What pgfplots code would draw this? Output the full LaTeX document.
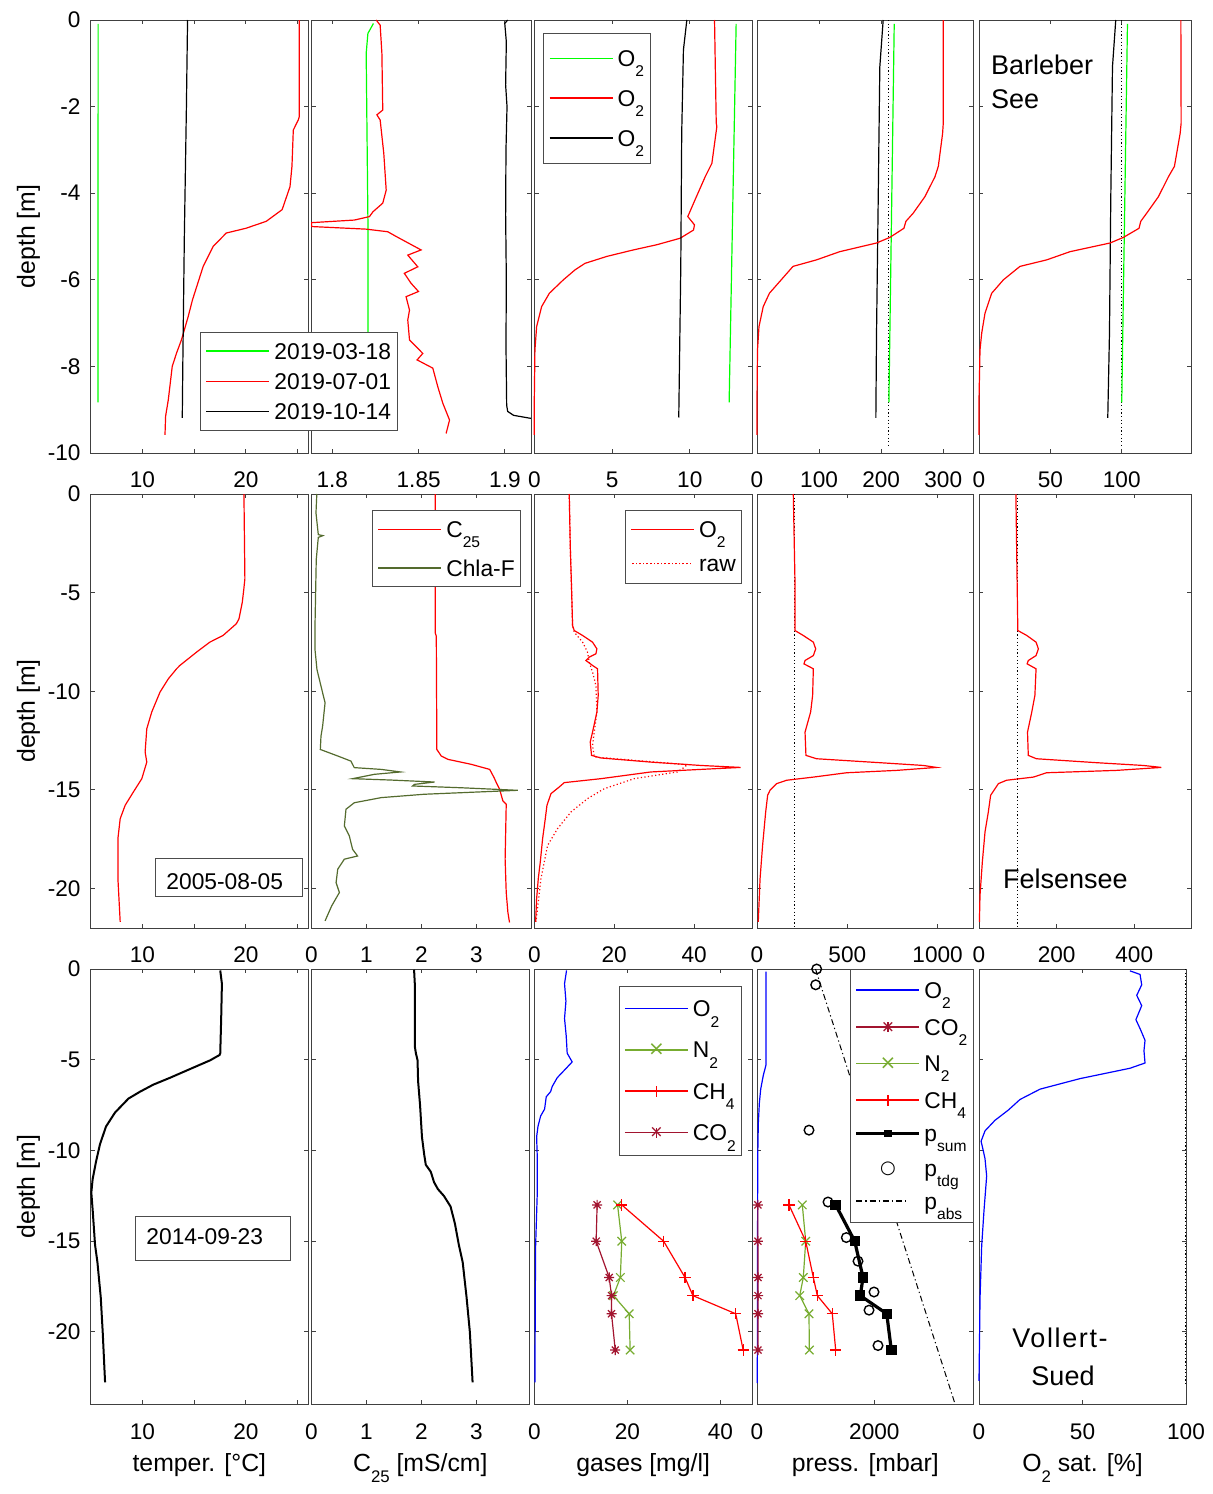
\documentclass[border=0pt]{standalone}
\usepackage{fontspec}
\setmainfont{Liberation Sans}
\newfontfamily\symfont{DejaVu Sans}
\usepackage{pgfplots}
\pgfplotsset{compat=1.18}

\definecolor{mgreen}{rgb}{0,1,0}
\definecolor{mred}{rgb}{1,0,0}
\definecolor{mblue}{rgb}{0,0,1}
\definecolor{chla}{rgb}{0.33,0.42,0.18}
\definecolor{ngreen}{rgb}{0.466,0.674,0.188}
\definecolor{codred}{rgb}{0.635,0.078,0.184}

% subscripts, matlab style (large and low)
\newcommand{\sub}[1]{\raisebox{-0.45em}[0pt][0pt]{\fontsize{7.8}{8}\selectfont #1}}
\newcommand{\subl}[1]{\raisebox{-0.45em}[0pt][0pt]{\fontsize{8.4}{9}\selectfont #1}}

% legend samples set as coloured text (line, marker, gap)
\newcommand{\ctr}[1]{\makebox[0pt][c]{\raisebox{-0.5\height}{#1}}}
\newcommand{\mkplus}{\makebox[0pt][c]{\rule[-2.8pt]{0.7pt}{5.6pt}}\makebox[0pt][c]{\rule[-0.35pt]{5.6pt}{0.7pt}}}
\newcommand{\mkx}{\ctr{\symfont\fontsize{10}{10}\selectfont ×}}
\newcommand{\mkast}{\makebox[0pt][c]{\rule[-2.5pt]{0.7pt}{5pt}}\makebox[0pt][c]{\rule[-0.35pt]{5pt}{0.7pt}}\ctr{\symfont\fontsize{8.5}{9}\selectfont ×}}
\newcommand{\mksq}{\ctr{\rule{3.6pt}{3.6pt}}}
\newcommand{\mkcirc}{\ctr{\symfont\fontsize{9}{9}\selectfont ○}}
\newcommand{\lsamp}[1]{\textcolor{#1}{\rule[3.7pt]{31.5pt}{0.8pt}}\hspace*{2.5pt}}
\newcommand{\lmark}[4]{\textcolor{#1}{\rlap{\rule[#2]{31.5pt}{#3}}\makebox[31.5pt][c]{\raisebox{4.1pt}{#4}}}\hspace*{2.5pt}}
\newcommand{\lonly}[1]{\makebox[31.5pt][c]{\raisebox{4.1pt}{#1}}\hspace*{2.5pt}}
\newcommand{\ldot}[1]{\textcolor{#1}{\hbox to 31.5pt{\leaders\hbox to 1.8pt{\hss\rule[3.7pt]{0.8pt}{0.8pt}\hss}\hfill}}\hspace*{2.5pt}}
\newcommand{\ldd}{\hbox to 31.5pt{\leaders\hbox to 6.6pt{\rule[3.8pt]{3pt}{0.6pt}\hspace*{1.5pt}\rule[3.8pt]{0.7pt}{0.6pt}\hfil}\hfill}\hspace*{2.5pt}}

% 8-armed asterisk like matlab '*'
\pgfdeclareplotmark{ast8}{%
  \pgfpathmoveto{\pgfqpoint{-\pgfplotmarksize}{0pt}}\pgfpathlineto{\pgfqpoint{\pgfplotmarksize}{0pt}}%
  \pgfpathmoveto{\pgfqpoint{0pt}{-\pgfplotmarksize}}\pgfpathlineto{\pgfqpoint{0pt}{\pgfplotmarksize}}%
  \pgfpathmoveto{\pgfqpoint{-.707\pgfplotmarksize}{-.707\pgfplotmarksize}}\pgfpathlineto{\pgfqpoint{.707\pgfplotmarksize}{.707\pgfplotmarksize}}%
  \pgfpathmoveto{\pgfqpoint{-.707\pgfplotmarksize}{.707\pgfplotmarksize}}\pgfpathlineto{\pgfqpoint{.707\pgfplotmarksize}{-.707\pgfplotmarksize}}%
  \pgfusepathqstroke}

\pgfplotsset{
  panel/.style={
    scale only axis, anchor=north west, clip=false,
    axis line style={black!75, line width=0.5pt},
    every tick/.style={black!75, line width=0.5pt},
    tick align=inside, major tick length=2.2pt,
    xtick pos=both, ytick pos=both,
    xticklabel pos=lower, yticklabel pos=left,
    tick label style={font=\fontsize{11.3}{12}\selectfont},
    xticklabel style={anchor=base, yshift=-17.3pt},
    yticklabel style={anchor=east, xshift=-1.1pt},
    yticklabels={},
    every axis x label/.style={at={(axis description cs:0.5,0)}, anchor=base, yshift=-33.3pt, font=\fontsize{12.4}{14}\selectfont},
    every axis y label/.style={at={(axis description cs:-0.286,0.5)}, anchor=center, rotate=90, font=\fontsize{12.4}{14}\selectfont},
    legend cell align=left,
    legend image code/.code={},
    legend style={draw=black!70, fill=white, font=\fontsize{11.4}{13}\selectfont,
      inner xsep=1.5pt, nodes={inner sep=0pt, inner xsep=1.5pt, text depth=0pt}},
  },
  ln/.style={line width=0.6pt},
  r1/.style={ymin=-10, ymax=0, ytick={0,-2,-4,-6,-8,-10}, height=216.5pt},
  r2/.style={ymin=-22, ymax=0, ytick={0,-5,-10,-15,-20}, height=217pt},
  r3/.style={ymin=-24, ymax=0, ytick={0,-5,-10,-15,-20}, height=217.75pt},
  lg/.style 2 args={legend style={row sep=#1, inner ysep=#2}},
  dots/.style={line width=0.5pt, dash pattern=on 0.6pt off 1.2pt},
}

\begin{document}
\fontsize{11.4}{13}\selectfont
\begin{tikzpicture}
\useasboundingbox (0,0) rectangle (606pt,-747pt);

% ================= row 1: Barleber See =================
\begin{axis}[panel, r1, at={(155.65pt,-10pt)}, width=109.85pt,
  xmin=1.7878, xmax=1.9151, xtick={1.8,1.85,1.9}, xticklabels={1.8,1.85,1.9}]
\addplot[ln, mgreen] coordinates {(1.8238,-0.08) (1.8206,-0.31) (1.8196,-0.77) (1.8200,-2.31) (1.8206,-4.62) (1.8206,-7.2) (1.8206,-8.83)};
\addplot[ln, mred] coordinates {(1.8254,0) (1.8277,-0.12) (1.8287,-0.77) (1.8292,-2.08) (1.8258,-2.19) (1.8277,-2.31) (1.8298,-3.08) (1.8312,-3.93) (1.8292,-4.23) (1.8235,-4.43) (1.8215,-4.54) (1.8128,-4.62) (1.788,-4.68) (1.788,-4.77) (1.8196,-4.83) (1.8321,-4.89) (1.8370,-5.0) (1.8514,-5.31) (1.8437,-5.43) (1.8495,-5.7) (1.8417,-5.85) (1.8456,-6.08) (1.8499,-6.27) (1.8427,-6.39) (1.8447,-6.7) (1.8437,-6.93) (1.8447,-7.39) (1.8524,-7.7) (1.8491,-7.85) (1.8582,-8.04) (1.8611,-8.47) (1.8640,-8.85) (1.8679,-9.24) (1.8659,-9.55)};
\addplot[ln, black] coordinates {(1.9016,0) (1.8999,-0.08) (1.9008,-0.5) (1.9004,-1.5) (1.9012,-2.0) (1.9006,-3) (1.9004,-4.5) (1.9008,-6) (1.9006,-7.5) (1.9010,-8.9) (1.9016,-9.04) (1.905,-9.13) (1.915,-9.2)};
\end{axis}

\begin{axis}[panel, r1, at={(45.35pt,-10pt)}, width=108.65pt,
  xmin=5, xmax=26, xtick={10,15,20,25}, xticklabels={10,,20,},
  yticklabels={0,-2,-4,-6,-8,-10}, ylabel={depth [m]},
  lg={7.2pt}{5.35pt}, legend style={at={(axis description cs:0.503,0.279)}, anchor=north west}]
\addplot[ln, mgreen] coordinates {(5.72,-0.09) (5.70,-8.83)};
\addplot[ln, mred] coordinates {(25.16,0) (25.16,-2.23) (25.06,-2.31) (24.58,-2.54) (24.45,-3.38) (24.26,-3.85) (23.5,-4.38) (21.96,-4.65) (20.0,-4.81) (18.1,-4.92) (16.83,-5.23) (15.87,-5.69) (14.84,-6.46) (14.42,-6.85) (13.78,-7.38) (13.3,-7.69) (12.88,-8.0) (12.5,-8.77) (12.24,-9.15) (12.18,-9.58)};
\addplot[ln, black] coordinates {(14.36,0) (14.25,-2) (14.05,-5) (13.9,-8) (13.85,-9.19)};
\legend{\lsamp{mgreen}2019-03-18,\lsamp{mred}2019-07-01,\lsamp{black}2019-10-14}
\end{axis}

\begin{axis}[panel, r1, at={(267.15pt,-10pt)}, width=108.85pt,
  xmin=0, xmax=14, xtick={0,5,10}, xticklabels={0,5,10},
  lg={11.95pt}{8.45pt}, legend style={at={(axis description cs:0.041,0.969)}, anchor=north west}]
\addplot[ln, mgreen] coordinates {(12.98,-0.09) (12.53,-8.83)};
\addplot[ln, mred] coordinates {(11.59,0) (11.70,-2.38) (11.74,-2.46) (11.42,-3.31) (10.99,-3.62) (10.34,-4.15) (9.87,-4.54) (10.30,-4.73) (10.24,-4.85) (9.38,-5.04) (7.88,-5.19) (6.37,-5.31) (4.66,-5.46) (3.26,-5.62) (2.62,-5.77) (1.87,-6.0) (0.97,-6.31) (0.47,-6.62) (0.15,-7.08) (0.04,-7.62) (0,-8.77) (0,-9.58)};
\addplot[ln, black] coordinates {(9.81,0) (9.59,-0.69) (9.48,-2.6) (9.42,-5.69) (9.29,-9.18)};
\legend{\lsamp{mgreen}O\sub{2},\lsamp{mred}O\sub{2},\lsamp{black}O\sub{2}}
\end{axis}

\begin{axis}[panel, r1, at={(378.5pt,-10pt)}, width=108.35pt,
  xmin=0, xmax=349, xtick={0,100,200,300}, xticklabels={0,100,200,300}]
\addplot[ln, black] coordinates {(203.2,0) (197.8,-1.08) (195.2,-4.15) (192.5,-7.23) (191.4,-9.19)};
\addplot[dots, black] coordinates {(212.4,0) (212.4,-9.85)};
\addplot[ln, mgreen] coordinates {(221,-0.09) (212.4,-8.83)};
\addplot[ln, mred] coordinates {(300,0) (300,-2.38) (298.9,-2.62) (292,-3.38) (286.6,-3.62) (270.4,-4.08) (251.6,-4.46) (239.8,-4.65) (236.6,-4.81) (214,-5.02) (192.5,-5.15) (133.3,-5.35) (95.7,-5.54) (58,-5.69) (39,-6.0) (20,-6.31) (10,-6.62) (3.2,-7.08) (0.8,-7.62) (0,-8.77) (0,-9.58)};
\end{axis}

\begin{axis}[panel, r1, at={(489.5pt,-10pt)}, width=106.35pt,
  xmin=0, xmax=149, xtick={0,50,100,150}, xticklabels={0,50,100,150}]
\addplot[ln, black] coordinates {(95.8,0) (93.5,-1.08) (92.3,-4.15) (91.4,-7.23) (90.2,-9.19)};
\addplot[dots, black] coordinates {(99.5,0) (99.5,-9.85)};
\addplot[ln, mgreen] coordinates {(104,-0.09) (100,-8.83)};
\addplot[ln, mred] coordinates {(141.4,0) (141.6,-2.38) (140.9,-2.62) (136.9,-3.38) (132.7,-3.62) (125.7,-4.08) (117.5,-4.46) (113.3,-4.65) (112.1,-4.81) (101.2,-5.02) (91.8,-5.15) (63.8,-5.35) (47.4,-5.54) (28.7,-5.69) (17.1,-6.0) (8.9,-6.31) (4.2,-6.77) (1.9,-7.23) (0.7,-7.62) (0,-8.77) (0,-9.58)};
\end{axis}

% ================= row 2: Felsensee =================
\begin{axis}[panel, r2, at={(45.35pt,-247pt)}, width=108.65pt,
  xmin=5, xmax=26, xtick={10,15,20,25}, xticklabels={10,,20,},
  yticklabels={0,-5,-10,-15,-20}, ylabel={depth [m]}]
\addplot[ln, mred] coordinates {(19.81,0) (19.9,-4.30) (19.8,-4.81) (19.65,-5.49) (19.33,-6.33) (19.07,-6.58) (17.79,-7.17) (16.51,-7.51) (15.22,-8.02) (13.62,-8.69) (13.3,-8.86) (12.5,-9.37) (11.7,-10.04) (10.9,-11.05) (10.42,-11.9) (10.26,-13.08) (10.42,-13.59) (9.94,-14.43) (9.13,-15.1) (8.33,-15.78) (7.85,-16.46) (7.63,-17.47) (7.63,-19.49) (7.85,-21.69)};
\end{axis}

\begin{axis}[panel, r2, at={(155.65pt,-247pt)}, width=109.85pt,
  xmin=0, xmax=3.99, xtick={0,1,2,3}, xticklabels={0,1,2,3},
  lg={11pt}{5.35pt}, legend style={at={(axis description cs:0.276,0.962)}, anchor=north west}]
\addplot[ln, mred] coordinates {(2.25,0) (2.25,-7.04) (2.27,-7.2) (2.28,-12.95) (2.36,-13.28) (2.48,-13.45) (2.90,-13.7) (3.24,-13.96) (3.32,-14.38) (3.36,-14.63) (3.42,-14.97) (3.48,-15.56) (3.54,-15.73) (3.52,-18.51) (3.54,-20.2) (3.57,-21.2) (3.6,-21.72)};
\addplot[ln, chla] coordinates {(0.10,0) (0.085,-0.96) (0.127,-2.06) (0.21,-2.11) (0.127,-2.2) (0.09,-3.32) (0.067,-6.7) (0.067,-7.88) (0.103,-8.9) (0.206,-10.08) (0.25,-10.58) (0.206,-11.76) (0.176,-12.27) (0.164,-12.95) (0.48,-13.28) (0.72,-13.54) (0.78,-13.87) (1.27,-13.96) (1.62,-14.09) (1.145,-14.21) (0.75,-14.43) (1.45,-14.5) (2.24,-14.6) (1.87,-14.72) (1.84,-14.8) (2.72,-14.89) (3.75,-15.02) (2.05,-15.22) (1.27,-15.39) (0.78,-15.65) (0.63,-15.98) (0.6,-16.83) (0.69,-17.33) (0.75,-18.01) (0.84,-18.35) (0.6,-18.51) (0.48,-19.02) (0.45,-19.7) (0.51,-20.2) (0.37,-20.88) (0.25,-21.64)};
\legend{\lsamp{mred}C\sub{25},\lsamp{chla}Chla-F}
\end{axis}

\begin{axis}[panel, r2, at={(267.15pt,-247pt)}, width=108.85pt,
  xmin=0, xmax=54.5, xtick={0,20,40}, xticklabels={0,20,40},
  lg={11pt}{5.6pt}, legend style={at={(axis description cs:0.955,0.963)}, anchor=north east}]
\addplot[ln, mred] coordinates {(8.75,0) (9.0,-2.62) (9.33,-4.81) (9.58,-6.67) (10,-6.92) (12.08,-7.17) (14.58,-7.51) (15.67,-7.85) (15.42,-8.1) (13.75,-8.27) (12.92,-8.44) (14.58,-8.69) (15.83,-8.86) (16,-10.21) (15.67,-11.05) (14.58,-12.07) (14,-12.57) (14.33,-13.25) (16.67,-13.38) (29.17,-13.59) (41.67,-13.76) (51.67,-13.86) (41.67,-13.96) (29.17,-14.09) (16.67,-14.43) (7.5,-14.63) (6.25,-14.85) (4.17,-15.19) (3.17,-15.78) (2.75,-16.46) (2.08,-17.47) (1.5,-18.65) (1.0,-19.49) (0.58,-20.51) (0.33,-21.69)};
\addplot[dots, line width=0.6pt, mred] coordinates {(8.75,0) (9.0,-2.62) (9.33,-4.81) (9.58,-6.67) (10,-7.0) (12.08,-7.51) (13.33,-8.02) (13.75,-8.52) (14.58,-9.03) (15.42,-9.7) (15.67,-11.05) (14.58,-12.74) (15,-13.33) (25,-13.5) (38.3,-13.72) (37.5,-13.86) (35.8,-14.09) (25,-14.43) (17.5,-14.94) (13.33,-15.44) (9.17,-16.12) (5.83,-16.96) (3.33,-17.81) (1.67,-19.49) (0.42,-21.69)};
\legend{\lsamp{mred}O\sub{2},\ldot{mred}raw}
\end{axis}

\begin{axis}[panel, r2, at={(378.5pt,-247pt)}, width=108.35pt,
  xmin=0, xmax=1200, xtick={0,500,1000}, xticklabels={0,500,1000}]
\addplot[dots, black] coordinates {(210,0) (210,-22)};
\addplot[ln, mred] coordinates {(201,0) (210,-4.3) (210,-6.92) (256,-7.17) (312,-7.51) (325,-7.85) (312,-8.19) (266,-8.44) (260,-8.61) (312,-8.86) (308,-10.21) (297,-11.05) (266,-12.07) (271,-13.25) (330,-13.42) (681,-13.62) (921,-13.76) (994,-13.86) (773,-14.01) (496,-14.13) (312,-14.35) (164,-14.51) (109,-14.68) (72,-15.02) (59,-15.27) (48,-16.12) (31,-17.81) (17,-19.49) (7,-21.69)};
\end{axis}

\begin{axis}[panel, r2, at={(489.5pt,-247pt)}, width=106.35pt,
  xmin=0, xmax=548, xtick={0,200,400}, xticklabels={0,200,400}]
\addplot[dots, black] coordinates {(99,0) (99,-22)};
\addplot[ln, mred] coordinates {(95,0) (100,-6.92) (123,-7.17) (147,-7.51) (153,-7.85) (147,-8.19) (127,-8.44) (124,-8.61) (147,-8.86) (144,-10.21) (136,-11.05) (125,-12.07) (127,-13.25) (148,-13.42) (303,-13.62) (423,-13.76) (470,-13.86) (354,-14.01) (174,-14.13) (140,-14.35) (71,-14.51) (50,-14.68) (30,-15.27) (24,-16.12) (15.5,-17.13) (8.6,-18.65) (2.6,-20.34) (1,-21.69)};
\end{axis}

% ================= row 3: Vollert-Sued =================
\begin{axis}[panel, r3, at={(45.35pt,-484.5pt)}, width=108.65pt,
  xmin=5, xmax=26, xtick={10,15,20,25}, xticklabels={10,,20,},
  yticklabels={0,-5,-10,-15,-20}, ylabel={depth [m]}, xlabel={temper. [°C]}]
\addplot[line width=1pt, black] coordinates {(17.52,-0.08) (17.68,-0.81) (17.61,-2.73) (17.52,-4.64) (17.45,-4.74) (16.55,-5.03) (14.61,-5.51) (12.68,-5.99) (11.06,-6.37) (9.77,-6.76) (8.65,-7.14) (7.35,-7.91) (6.48,-8.68) (5.9,-9.65) (5.52,-10.6) (5.19,-11.57) (5.06,-12.32) (5.19,-13.28) (5.42,-15.2) (5.65,-16.16) (5.97,-18.08) (6.16,-20.0) (6.39,-22.78)};
\end{axis}

\begin{axis}[panel, r3, at={(155.65pt,-484.5pt)}, width=109pt,
  xmin=0, xmax=3.96, xtick={0,1,2,3}, xticklabels={0,1,2,3}, xlabel={C\subl{25} [mS/cm]}]
\addplot[line width=1pt, black] coordinates {(1.867,-0.04) (1.88,-0.81) (1.88,-4.26) (1.90,-4.64) (1.93,-5.03) (1.94,-6.18) (1.976,-7.52) (2.01,-9.25) (2.05,-10.21) (2.08,-10.79) (2.17,-11.17) (2.23,-11.75) (2.30,-12.13) (2.41,-12.51) (2.53,-13.09) (2.61,-14.05) (2.68,-15.2) (2.75,-16.16) (2.82,-18.08) (2.88,-20.0) (2.93,-22.78)};
\end{axis}

\begin{axis}[panel, r3, at={(267.15pt,-484.5pt)}, width=108.85pt,
  xmin=0, xmax=46.8, xtick={0,20,40}, xticklabels={0,20,40}, xlabel={gases [mg/l]},
  lg={12.75pt}{7.45pt}, legend style={at={(axis description cs:0.955,0.962)}, anchor=north east}]
\addplot[ln, mblue] coordinates {(6.93,-0.08) (6.5,-0.81) (6.8,-1.77) (6.5,-2.73) (6.86,-3.69) (7.07,-4.64) (8.14,-5.12) (6.71,-5.51) (4.93,-5.99) (3.86,-6.47) (3.5,-6.76) (2.57,-7.04) (2.21,-7.72) (1.36,-8.1) (0.79,-8.68) (0.5,-9.25) (0.64,-10.4) (0.64,-12.32) (0.29,-15.2) (0.21,-18.08) (0.14,-22.78)};
\addplot[ln, ngreen, mark=x, mark size=3pt] coordinates {(17.9,-13) (18.8,-15) (18.5,-17) (17.0,-18) (20.4,-19) (20.6,-21)};
\addplot[ln, mred, mark=+, mark size=2.8pt] coordinates {(18.8,-13) (27.8,-15) (32.4,-17) (34.1,-18) (43.3,-19) (44.9,-21)};
\addplot[ln, codred, mark=ast8, mark size=2.5pt] coordinates {(13.5,-13) (13.3,-15) (16.1,-17) (16.6,-18) (16.6,-19) (17.4,-21)};
\legend{\lsamp{mblue}O\sub{2},\lmark{ngreen}{3.7pt}{0.8pt}{\mkx}N\sub{2},\lmark{mred}{3.7pt}{0.8pt}{\mkplus}CH\sub{4},\lmark{codred}{3.7pt}{0.8pt}{\mkast}CO\sub{2}}
\end{axis}

\begin{axis}[panel, r3, at={(378.5pt,-484.5pt)}, width=108.35pt,
  xmin=0, xmax=3693, xtick={0,2000}, xticklabels={0,2000}, xlabel={press. [mbar]},
  lg={10.4pt}{6.55pt}, legend style={at={(axis description cs:1,1)}, anchor=north east}]
\addplot[ln, mblue] coordinates {(153,-0.14) (154,-5.28) (108,-5.85) (63,-6.62) (40,-7.39) (22,-8.54) (12,-10.45) (5,-22.82)};
\addplot[ln, codred, mark=ast8, mark size=2.5pt] coordinates {(15,-13) (15,-15) (17,-17) (17,-18) (17,-19) (17,-21)};
\addplot[ln, ngreen, mark=x, mark size=3pt] coordinates {(772,-13) (830,-15) (789,-17) (728,-18) (886,-19) (892,-21)};
\addplot[ln, mred, mark=+, mark size=2.8pt] coordinates {(545,-13) (830,-15) (960,-17) (1028,-18) (1283,-19) (1341,-21)};
\addplot[line width=1.6pt, black, mark=square*, mark size=1.8pt] coordinates {(1341,-13) (1665,-15) (1807,-17) (1760,-18) (2211,-19) (2289,-21)};
\addplot[line width=0.7pt, black, only marks, mark=o, mark size=2.4pt] coordinates {(1017,0) (1000,-0.87) (886,-8.88) (1210,-12.84) (1522,-14.8) (1721,-16.1) (1994,-17.8) (1909,-18.8) (2062,-20.75)};
\addplot[line width=0.5pt, black, dash pattern=on 3pt off 1.5pt on 0.6pt off 1.5pt] coordinates {(997,0) (3378,-24)};
\legend{\lsamp{mblue}O\sub{2},\lmark{codred}{3.7pt}{0.8pt}{\mkast}CO\sub{2},\lmark{ngreen}{3.7pt}{0.8pt}{\mkx}N\sub{2},\lmark{mred}{3.7pt}{0.8pt}{\mkplus}CH\sub{4},\lmark{black}{3.3pt}{1.6pt}{\mksq}p\sub{sum},\lonly{\mkcirc}p\sub{tdg},\ldd p\sub{abs}}
\end{axis}

\begin{axis}[panel, r3, at={(489.5pt,-484.5pt)}, width=103.5pt,
  xmin=0, xmax=100, xtick={0,50,100}, xticklabels={0,50,100}, xlabel={O\subl{2} sat. [\%]}]
\addplot[dots, black] coordinates {(99.7,0) (99.7,-23)};
\addplot[ln, mblue] coordinates {(72.9,-0.1) (77.8,-0.3) (78.6,-0.87) (76.2,-1.45) (78.6,-2.02) (75.8,-2.79) (78.1,-3.36) (80.2,-3.93) (79.7,-4.5) (80.2,-5.18) (72.9,-5.47) (48.8,-6.04) (29.5,-6.62) (19.8,-7.19) (14.2,-7.77) (7.7,-8.34) (2.9,-8.92) (1.0,-9.49) (1.8,-9.88) (2.9,-10.45) (3.7,-11.41) (2.4,-13.33) (1.3,-15.24) (0.5,-18.12) (0,-22.7)};
\end{axis}

% annotations
\draw[black!70, line width=0.5pt, fill=white] (77.5pt,-429.15pt) rectangle (151.35pt,-448.35pt);
\node[anchor=base west, inner sep=0pt, font=\fontsize{11.4}{13}\selectfont] at (83pt,-444.6pt) {2005-08-05};
\draw[black!70, line width=0.5pt, fill=white] (67.85pt,-608pt) rectangle (145pt,-630.25pt);
\node[anchor=base west, inner sep=0pt, font=\fontsize{11.4}{13}\selectfont] at (73pt,-622.45pt) {2014-09-23};
\node[anchor=base west, inner sep=0pt, font=\fontsize{13.5}{16}\selectfont] at (495.35pt,-37pt) {Barleber};
\node[anchor=base west, inner sep=0pt, font=\fontsize{13.5}{16}\selectfont] at (495.35pt,-54pt) {See};
\node[anchor=base west, inner sep=0pt, font=\fontsize{13.5}{16}\selectfont] at (501.35pt,-444.15pt) {Felsensee};
\node[anchor=base, inner sep=0pt, font=\fontsize{13.5}{16}\selectfont\addfontfeatures{LetterSpace=6}] at (530pt,-673.6pt) {Vollert-};
\node[anchor=base, inner sep=0pt, font=\fontsize{13.5}{16}\selectfont] at (531.5pt,-692.75pt) {Sued};
\end{tikzpicture}
\end{document}
